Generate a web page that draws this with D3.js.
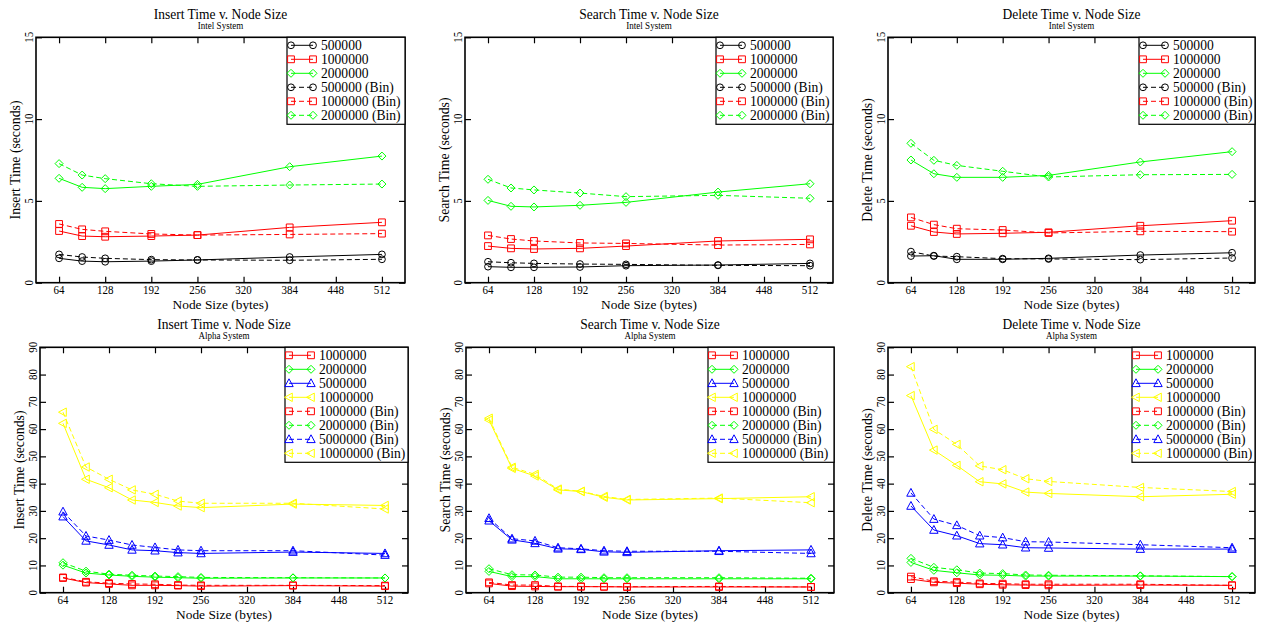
<!DOCTYPE html>
<html><head><meta charset="utf-8">
<script src="https://cdn.jsdelivr.net/npm/d3@7"></script>
<style>
body{margin:0;background:#fff}
svg{display:block}
</style>
</head><body>
<svg id="c" width="1263" height="622"></svg>
<script>
// ---------------- DATA ----------------
const intelX = [64, 96, 128, 192, 256, 384, 512];
const alphaX = [64, 96, 128, 160, 192, 224, 256, 384, 512];
const xTicks = [64, 128, 192, 256, 320, 384, 448, 512];
const intelYTicks = [0, 5, 10, 15];
const alphaYTicks = [0, 10, 20, 30, 40, 50, 60, 70, 80, 90];

const intelNames = ["500000", "1000000", "2000000", "500000 (Bin)", "1000000 (Bin)", "2000000 (Bin)"];
const alphaNames = ["1000000", "2000000", "5000000", "10000000", "1000000 (Bin)", "2000000 (Bin)", "5000000 (Bin)", "10000000 (Bin)"];

// Intel system (seconds), one row per series in intelNames order
const insertIntel = [
  [1.49, 1.32, 1.28, 1.32, 1.39, 1.57, 1.73],
  [3.16, 2.85, 2.81, 2.85, 2.91, 3.38, 3.69],
  [6.38, 5.83, 5.75, 5.89, 6.01, 7.09, 7.74],
  [1.73, 1.57, 1.49, 1.41, 1.39, 1.37, 1.43],
  [3.59, 3.26, 3.14, 2.98, 2.91, 2.95, 3.00],
  [7.28, 6.58, 6.36, 6.05, 5.89, 5.97, 6.03]
];
const searchIntel = [
  [0.98, 0.94, 0.94, 0.96, 1.04, 1.08, 1.18],
  [2.24, 2.10, 2.06, 2.10, 2.24, 2.55, 2.65],
  [5.03, 4.67, 4.63, 4.73, 4.91, 5.54, 6.05],
  [1.28, 1.22, 1.18, 1.14, 1.12, 1.06, 1.04],
  [2.89, 2.67, 2.55, 2.43, 2.40, 2.30, 2.34],
  [6.32, 5.79, 5.67, 5.48, 5.26, 5.34, 5.16]
];
const deleteIntel = [
  [1.63, 1.65, 1.43, 1.43, 1.49, 1.69, 1.83],
  [3.48, 3.10, 2.98, 3.02, 3.08, 3.48, 3.79],
  [7.50, 6.66, 6.44, 6.44, 6.56, 7.38, 8.01],
  [1.90, 1.63, 1.59, 1.47, 1.45, 1.41, 1.51],
  [3.99, 3.55, 3.30, 3.22, 3.04, 3.14, 3.12],
  [8.52, 7.48, 7.17, 6.81, 6.46, 6.60, 6.62]
];
// Alpha system (seconds), one row per series in alphaNames order
const insertAlpha = [
  [5.4, 3.7, 3.2, 2.7, 2.7, 2.6, 2.4, 2.6, 2.4],
  [10.1, 7.2, 6.5, 6.0, 5.7, 5.5, 5.3, 5.4, 5.4],
  [27.9, 19.0, 17.5, 15.7, 15.4, 14.7, 14.4, 14.9, 14.4],
  [62.1, 41.6, 38.5, 34.0, 33.1, 31.8, 31.2, 32.5, 32.0],
  [5.6, 4.0, 3.5, 3.2, 3.1, 2.8, 2.7, 2.7, 2.6],
  [11.0, 7.9, 6.8, 6.4, 6.1, 5.9, 5.6, 5.5, 5.4],
  [29.7, 20.8, 19.3, 17.5, 16.6, 15.7, 15.4, 15.4, 13.8],
  [66.2, 46.1, 41.6, 37.7, 36.1, 33.6, 32.8, 32.8, 30.7]
];
const searchAlpha = [
  [3.4, 2.4, 2.3, 2.2, 2.2, 2.2, 2.1, 2.1, 2.1],
  [7.8, 5.9, 5.9, 5.1, 5.1, 5.1, 5.1, 5.1, 5.1],
  [26.4, 19.4, 18.1, 16.1, 15.9, 15.0, 14.8, 15.4, 15.7],
  [63.3, 45.6, 42.8, 37.7, 37.1, 35.0, 34.0, 34.5, 35.2],
  [3.8, 2.8, 2.8, 2.3, 2.3, 2.2, 2.2, 2.3, 2.1],
  [8.8, 6.6, 6.5, 5.7, 5.7, 5.5, 5.5, 5.5, 5.3],
  [27.3, 19.8, 19.0, 16.5, 16.1, 15.4, 15.2, 15.2, 14.4],
  [64.0, 46.0, 43.4, 38.0, 37.2, 35.3, 34.2, 34.7, 33.0]
];
const deleteAlpha = [
  [5.0, 3.8, 3.5, 3.1, 2.9, 2.8, 2.7, 2.8, 2.7],
  [11.1, 8.2, 7.3, 6.5, 6.4, 6.1, 6.1, 6.1, 5.9],
  [31.8, 23.0, 20.9, 18.0, 17.6, 16.5, 16.4, 16.0, 16.0],
  [72.3, 52.3, 46.7, 40.7, 39.9, 36.9, 36.4, 35.2, 36.1],
  [5.9, 4.2, 3.9, 3.4, 3.3, 3.1, 3.1, 3.1, 2.7],
  [12.6, 9.3, 8.4, 7.2, 7.0, 6.5, 6.4, 6.2, 5.9],
  [36.6, 27.0, 24.7, 20.9, 20.2, 18.7, 18.6, 17.6, 16.5],
  [82.9, 59.9, 54.4, 46.5, 45.1, 41.8, 40.8, 38.6, 37.1]
];

// ---------------- STYLES ----------------
const FONT = "'Liberation Serif', 'Times New Roman', Times, serif";
const intelStyles = [
  {c: "#000000", s: "circle", d: false}, {c: "#ff0000", s: "square", d: false}, {c: "#00ff00", s: "diamond", d: false},
  {c: "#000000", s: "circle", d: true},  {c: "#ff0000", s: "square", d: true},  {c: "#00ff00", s: "diamond", d: true}
];
const alphaStyles = [
  {c: "#ff0000", s: "square", d: false}, {c: "#00ff00", s: "diamond", d: false}, {c: "#0000ff", s: "triUp", d: false}, {c: "#ffff00", s: "triLeft", d: false},
  {c: "#ff0000", s: "square", d: true},  {c: "#00ff00", s: "diamond", d: true},  {c: "#0000ff", s: "triUp", d: true},  {c: "#ffff00", s: "triLeft", d: true}
];

const panels = [
  {title: "Insert Time v. Node Size", sub: "Intel System", ylab: "Insert Time (seconds)", xlab: "Node Size (bytes)", data: insertIntel, names: intelNames, styles: intelStyles, xs: intelX, yt: intelYTicks, L: 36, R: 405, T: 37.3, B: 282.7, legW: 118},
  {title: "Search Time v. Node Size", sub: "Intel System", ylab: "Search Time (seconds)", xlab: "Node Size (bytes)", data: searchIntel, names: intelNames, styles: intelStyles, xs: intelX, yt: intelYTicks, L: 465, R: 833, T: 37.3, B: 282.7, legW: 117},
  {title: "Delete Time v. Node Size", sub: "Intel System", ylab: "Delete Time (seconds)", xlab: "Node Size (bytes)", data: deleteIntel, names: intelNames, styles: intelStyles, xs: intelX, yt: intelYTicks, L: 888, R: 1255, T: 37.3, B: 282.7, legW: 116},
  {title: "Insert Time v. Node Size", sub: "Alpha System", ylab: "Insert Time (seconds)", xlab: "Node Size (bytes)", data: insertAlpha, names: alphaNames, styles: alphaStyles, xs: alphaX, yt: alphaYTicks, L: 40, R: 408, T: 347.3, B: 592.7, legW: 123},
  {title: "Search Time v. Node Size", sub: "Alpha System", ylab: "Search Time (seconds)", xlab: "Node Size (bytes)", data: searchAlpha, names: alphaNames, styles: alphaStyles, xs: alphaX, yt: alphaYTicks, L: 466, R: 834, T: 347.3, B: 592.7, legW: 126},
  {title: "Delete Time v. Node Size", sub: "Alpha System", ylab: "Delete Time (seconds)", xlab: "Node Size (bytes)", data: deleteAlpha, names: alphaNames, styles: alphaStyles, xs: alphaX, yt: alphaYTicks, L: 888, R: 1255, T: 347.3, B: 592.7, legW: 123}
];

// ---------------- DRAW ----------------
const svg = d3.select("#c");

function sym(g, type, x, y, color) {
  let p;
  if (type === "circle") {
    g.append("circle").attr("cx", x).attr("cy", y).attr("r", 3.4)
      .attr("fill", "none").attr("stroke", color).attr("stroke-width", 1);
    return;
  }
  if (type === "square") p = [[-3.4,-3.4],[3.4,-3.4],[3.4,3.4],[-3.4,3.4]];
  if (type === "diamond") p = [[0,-4],[4,0],[0,4],[-4,0]];
  if (type === "triUp") p = [[0,-4.5],[4.2,3.3],[-4.2,3.3]];
  if (type === "triLeft") p = [[-4.5,0],[3.3,-4.2],[3.3,4.2]];
  g.append("path").attr("d", "M" + p.map(q => (x+q[0]) + "," + (y+q[1])).join("L") + "Z")
    .attr("fill", "none").attr("stroke", color).attr("stroke-width", 1);
}

function txt(g, s, x, y, size, opts = {}) {
  const t = g.append("text")
    .attr("transform", `translate(${x},${y})` + (opts.rot ? ` rotate(${opts.rot})` : "") + ` scale(${opts.sx || 1},1)`)
    .attr("font-family", FONT)
    .attr("font-size", size)
    .attr("fill", "#000")
    .attr("text-anchor", opts.anchor || "middle")
    .text(s);
  if (opts.weight) t.attr("font-weight", opts.weight);
  return t;
}

panels.forEach(P => {
  const g = svg.append("g");
  const x = d3.scaleLinear().domain([32, 544]).range([P.L, P.R]);
  const ymax = P.yt[P.yt.length - 1];
  const y = d3.scaleLinear().domain([0, ymax]).range([P.B, P.T]);

  // ticks (inward on all four sides)
  const tk = 6;
  g.append("g").attr("transform", `translate(0,${P.B})`).call(d3.axisBottom(x).tickValues(xTicks).tickSize(-tk).tickFormat(""));
  g.append("g").attr("transform", `translate(0,${P.T})`).call(d3.axisTop(x).tickValues(xTicks).tickSize(-tk).tickFormat(""));
  g.append("g").attr("transform", `translate(${P.L},0)`).call(d3.axisLeft(y).tickValues(P.yt).tickSize(-tk).tickFormat(""));
  g.append("g").attr("transform", `translate(${P.R},0)`).call(d3.axisRight(y).tickValues(P.yt).tickSize(-tk).tickFormat(""));
  g.selectAll(".domain").remove();
  g.selectAll(".tick text").remove();
  g.selectAll(".tick line").attr("stroke", "#000").attr("stroke-width", 1.2);

  // tick labels
  xTicks.forEach(v => txt(g, String(v), x(v), P.B + 11, 12.5, {sx: 0.88}));
  P.yt.forEach(v => txt(g, String(v), P.L - 3, y(v), 12.5, {rot: -90, sx: 0.88}));

  // series
  const line = d3.line().x((d, i) => x(P.xs[i])).y(d => y(d));
  P.data.forEach((vals, si) => {
    const st = P.styles[si];
    g.append("path").attr("d", line(vals)).attr("fill", "none")
      .attr("stroke", st.c).attr("stroke-width", 1)
      .attr("stroke-dasharray", st.d ? "5,3" : null);
    vals.forEach((v, i) => sym(g, st.s, x(P.xs[i]), y(v), st.c));
  });

  // frame
  g.append("rect").attr("x", P.L).attr("y", P.T).attr("width", P.R - P.L).attr("height", P.B - P.T)
    .attr("fill", "none").attr("stroke", "#000").attr("stroke-width", 1.6);

  // legend
  const n = P.names.length;
  const lx = P.R - P.legW, ly = P.T;
  const lh = (n - 1) * 14 + 17;
  g.append("rect").attr("x", lx).attr("y", ly).attr("width", P.legW).attr("height", lh)
    .attr("fill", "#fff").attr("stroke", "#000").attr("stroke-width", 1.2);
  P.names.forEach((nm, i) => {
    const st = P.styles[i];
    const cy = ly + 8 + i * 14;
    g.append("line").attr("x1", lx + 4).attr("x2", lx + 26).attr("y1", cy).attr("y2", cy)
      .attr("stroke", st.c).attr("stroke-width", 1).attr("stroke-dasharray", st.d ? "5,3" : null);
    sym(g, st.s, lx + 4, cy, st.c);
    sym(g, st.s, lx + 26, cy, st.c);
    txt(g, nm, lx + 34, cy + 4.7, 14, {anchor: "start", sx: 0.97});
  });

  // titles
  const cx = (P.L + P.R) / 2;
  txt(g, P.title, cx, P.T - 18.5, 14.5, {sx: 0.93});
  txt(g, P.sub, cx, P.T - 8.5, 9.5, {sx: 0.95});
  txt(g, P.xlab, cx, P.B + 26, 13, {sx: 1.03});
  txt(g, P.ylab, P.L - 16, (P.T + P.B) / 2, 14, {rot: -90, sx: 0.98});
});
</script>
</body></html>
